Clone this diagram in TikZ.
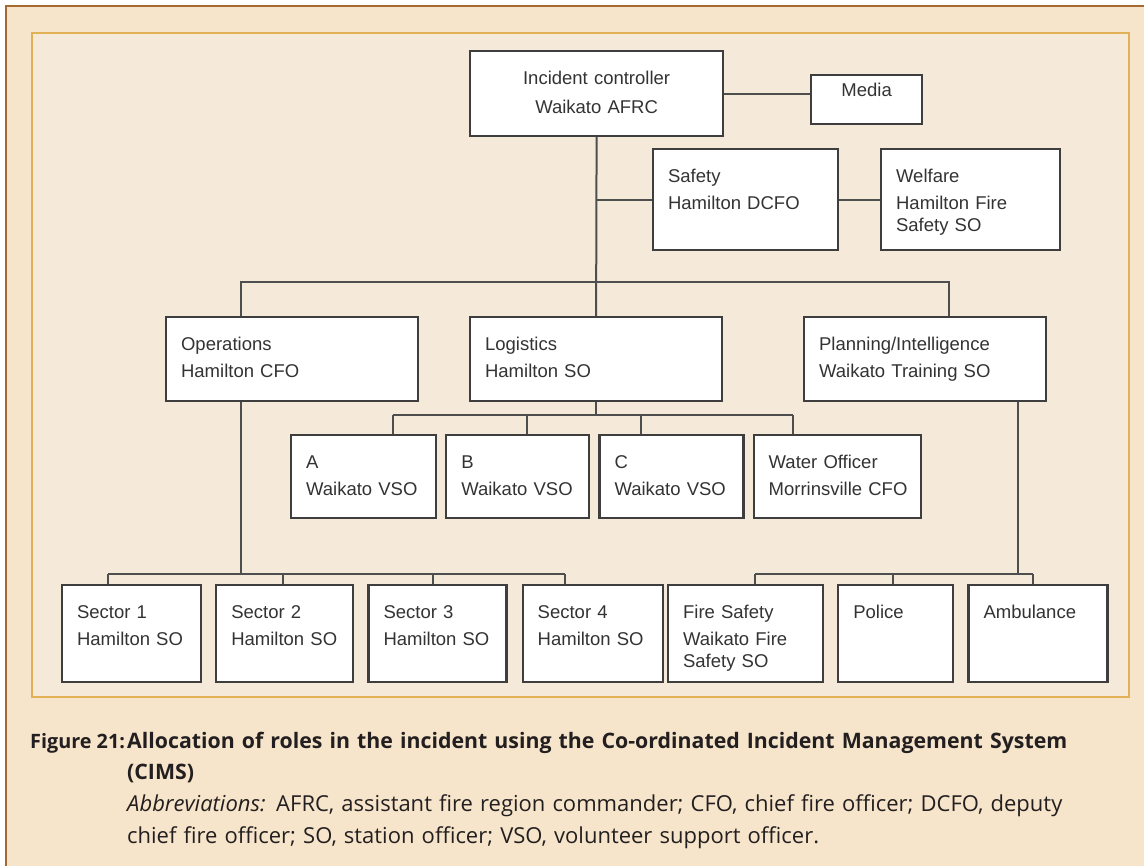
\documentclass[tikz,border=0pt]{standalone}
\usepackage{fontspec}
\setmainfont{Liberation Sans}
\newfontfamily\capfont{Open Sans}
\usetikzlibrary{positioning}

\definecolor{outerbg}{HTML}{F6E5CA}
\definecolor{innerbg}{HTML}{F5EAD9}
\definecolor{brownline}{HTML}{A46A32}
\definecolor{orangeline}{HTML}{E3B155}
\definecolor{boxline}{HTML}{3E3E3E}
\definecolor{linkcol}{HTML}{4E4E4E}
\definecolor{boxtext}{HTML}{333333}
\definecolor{captext}{HTML}{231F20}

\tikzset{
  box/.style={draw=boxline, line width=2.2pt, fill=white, align=left, anchor=north west,
    inner xsep=15pt, inner ysep=0pt, text height=33.5pt, text=boxtext,
    font=\fontsize{18.5}{22}\selectfont},
  boxsize/.style 2 args={text width={#1pt-30pt}, text depth={#2pt-33.5pt}},
  link/.style={draw=linkcol, line width=2pt},
  caption/.style={inner sep=0pt, text=captext, font=\capfont\fontsize{21.3}{31.7}\selectfont}
}

\begin{document}
\begin{tikzpicture}[x=1pt, y=-1pt]
        % Frame
        \useasboundingbox (0,0) rectangle (1144,866);
        \fill[white] (0,0) rectangle (1144,866);
        \fill[outerbg] (6,6) rectangle (1144,866);
        \draw[brownline, line width=1.5pt] (6,866) -- (6,6) -- (1144,6);
        \draw[orangeline, line width=2.5pt, fill=innerbg] (32,33) rectangle (1129,697);

        % Nodes
        \node[box, boxsize={253}{85}, align=center] (ic) at (469,50) {Incident controller\\[7pt]Waikato AFRC};
        \node[box, text width=81pt, text height=21pt, text depth=28pt, align=center] (media) at (810,74) {Media};
        \node[box, boxsize={185}{101}] (safety) at (652,148) {Safety\\[5pt]Hamilton DCFO};
        \node[box, boxsize={179}{101}] (welfare) at (880,148) {Welfare\\[5pt]Hamilton Fire Safety SO};

        \node[box, boxsize={252}{84}] (ops) at (165,316) {Operations\\[5pt]Hamilton CFO};
        \node[box, boxsize={252}{84}] (logi) at (469,316) {Logistics\\[5pt]Hamilton SO};
        \node[box, boxsize={242}{84}] (plan) at (803,316) {Planning/Intelligence\\[5pt]Waikato Training SO};

        \node[box, boxsize={145}{83}] (a) at (290,434) {A\\[5pt]Waikato~VSO};
        \node[box, boxsize={143}{83}, right=8pt of a] (b) {B\\[5pt]Waikato~VSO};
        \node[box, boxsize={144}{83}, right=8pt of b] (c) {C\\[5pt]Waikato~VSO};
        \node[box, boxsize={167}{83}, right=8pt of c] (water) {Water Officer\\[5pt]Morrinsville~CFO};

        \node[box, boxsize={139}{97}] (s1) at (61,584) {Sector 1\\[5pt]Hamilton~SO};
        \node[box, boxsize={137}{97}, right=13pt of s1] (s2) {Sector 2\\[5pt]Hamilton~SO};
        \node[box, boxsize={138}{97}, right=13pt of s2] (s3) {Sector 3\\[5pt]Hamilton~SO};
        \node[box, boxsize={140}{97}, right=14pt of s3] (s4) {Sector 4\\[5pt]Hamilton~SO};

        \node[box, boxsize={155}{97}] (fire) at (667,584) {Fire Safety\\[5pt]Waikato Fire Safety SO};
        \node[box, boxsize={115}{97}, right=13pt of fire] (police) {Police};
        \node[box, boxsize={139}{97}, right=13pt of police] (amb) {Ambulance};

        % Edges
        \draw[link] (ic.south) -- (logi.north);
        \draw[link] (ic.east) -- (ic.east -| media.west);
        \draw[link] (ic.south |- safety.west) -- (safety.west);
        \draw[link] (safety.east) -- (welfare.west);

        \coordinate (opsup) at (241,282);
        \coordinate (planup) at (949,282);
        \draw[link] (opsup |- ops.north) -- (opsup) -- (planup) -- (planup |- plan.north);

        \foreach \n/\x in {a/393, b/527, c/641, water/793} {
                \coordinate (t\n) at (\x,415);
                \draw[link] (t\n) -- (t\n |- \n.north);
        }
        \draw[link] (logi.south) -- (logi.south |- ta);
        \draw[link] (ta) -- (twater);

        \foreach \n/\x in {s1/108, s2/283, s3/433, s4/565} {
                \coordinate (t\n) at (\x,574);
                \draw[link] (t\n) -- (t\n |- \n.north);
        }
        \coordinate (opsdown) at (241,574);
        \draw[link] (opsdown |- ops.south) -- (opsdown);
        \draw[link] (ts1) -- (ts4);

        \foreach \n/\x in {fire/755, police/893, amb/1033} {
                \coordinate (t\n) at (\x,574);
                \draw[link] (t\n) -- (t\n |- \n.north);
        }
        \coordinate (plandown) at (1018,574);
        \draw[link] (plandown |- plan.south) -- (plandown);
        \draw[link] (tfire) -- (tamb);

        % Caption
        \node[caption, anchor=base west, font=\capfont\fontsize{19.8}{31.7}\selectfont] (figlabel) at (30,748) {\bfseries Figure 21:};
        \node[caption, anchor=base west, text width=1010pt, align=left] (figtext) at (127,748)
                {{\bfseries Allocation of roles in the incident using the Co-ordinated Incident Management System\\(CIMS)}\\
                \fontsize{22}{31.7}\selectfont\textit{Abbreviations:} AFRC, assistant fire region commander; CFO, chief fire officer; DCFO, deputy\\
                chief fire officer; SO, station officer; VSO, volunteer support officer.};
\end{tikzpicture}
\end{document}
